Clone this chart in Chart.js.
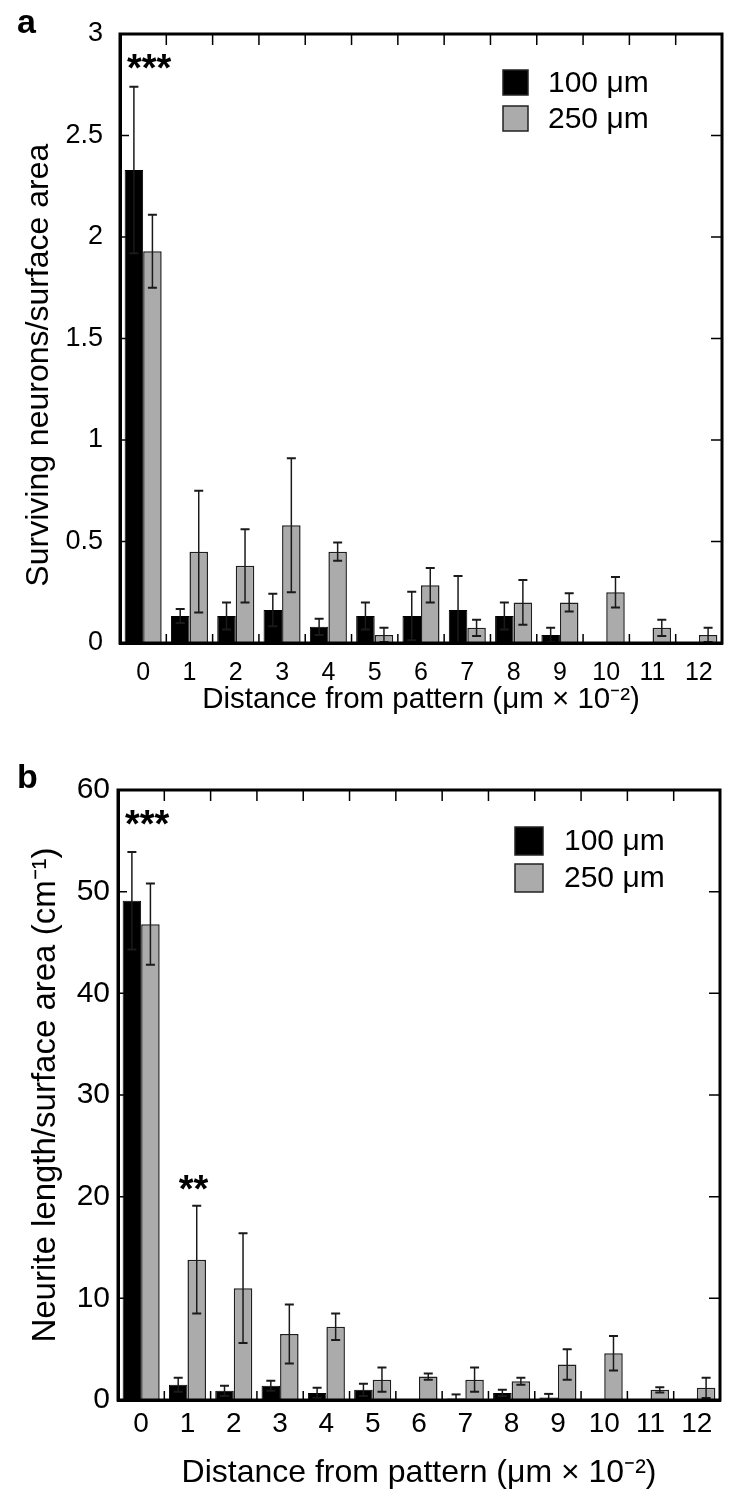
<!DOCTYPE html>
<html>
<head>
<meta charset="utf-8">
<script src="https://cdn.jsdelivr.net/npm/chart.js@4.4.1/dist/chart.umd.min.js"></script>
<style>
  body { margin: 0; background: #fff; }
  canvas { display: block; }
</style>
</head>
<body>
<canvas id="chartA" width="750" height="753"></canvas>
<canvas id="chartB" width="750" height="753"></canvas>
<script>
// categories (distance from pattern, um x 10^-2)
const distances = ['0', '1', '2', '3', '4', '5', '6', '7', '8', '9', '10', '11', '12'];
const seriesNames = ['100 \u03bcm', '250 \u03bcm'];

// panel a - surviving neurons / surface area
const neurons100 = [2.33, 0.133, 0.133, 0.163, 0.08, 0.133, 0.133, 0.163, 0.133, 0.04, 0, 0, 0];
const neurons100Err = [0.41, 0.034, 0.067, 0.08, 0.04, 0.067, 0.12, 0.167, 0.067, 0.035, 0, 0, 0];
const neurons250 = [1.93, 0.45, 0.38, 0.58, 0.45, 0.04, 0.285, 0.075, 0.20, 0.20, 0.25, 0.075, 0.04];
const neurons250Err = [0.18, 0.30, 0.18, 0.33, 0.045, 0.035, 0.085, 0.04, 0.11, 0.045, 0.075, 0.04, 0.035];
const neuronsTicks = [0, 0.5, 1, 1.5, 2, 2.5, 3];
const neuronsStars = [{ at: 0, y: 2.86, text: '***' }];

// panel b - neurite length / surface area
const neurite100 = [49.1, 1.5, 0.9, 1.4, 0.7, 1.0, 0, 0.15, 0.7, 0.25, 0, 0, 0];
const neurite100Err = [4.8, 0.7, 0.5, 0.5, 0.5, 0.6, 0, 0.4, 0.3, 0.35, 0, 0, 0];
const neurite250 = [46.8, 13.8, 11.0, 6.5, 7.2, 2.0, 2.3, 2.0, 1.85, 3.5, 4.6, 1.0, 1.2];
const neurite250Err = [4.0, 5.3, 5.4, 2.9, 1.3, 1.2, 0.3, 1.2, 0.35, 1.5, 1.7, 0.25, 1.0];
const neuriteTicks = [0, 10, 20, 30, 40, 50, 60];
const neuriteStars = [{ at: 0, y: 57.2, text: '***' }, { at: 1, y: 21.3, text: '**' }];

const FONT = '"Liberation Sans", Arial, Helvetica, sans-serif';
Chart.defaults.font.family = FONT;
Chart.defaults.color = '#000';

const decor = {
  id: 'decor',
  afterDatasetsDraw(chart) {
    const ctx = chart.ctx;
    const y = chart.scales.y;
    ctx.save();
    ctx.strokeStyle = '#1a1a1a';
    chart.data.datasets.forEach((ds, d) => {
      const meta = chart.getDatasetMeta(d);
      meta.data.forEach((bar, i) => {
        const e = ds.errors[i];
        if (!e) return;
        const v = ds.data[i];
        const top = y.getPixelForValue(v + e);
        const bot = y.getPixelForValue(Math.max(v - e, 0));
        ctx.lineWidth = 1.5;
        ctx.beginPath();
        ctx.moveTo(bar.x, top);
        ctx.lineTo(bar.x, bot);
        ctx.stroke();
        ctx.lineWidth = 2;
        ctx.beginPath();
        ctx.moveTo(bar.x - 4.5, top);
        ctx.lineTo(bar.x + 4.5, top);
        if (v - e > 0) {
          ctx.moveTo(bar.x - 4.5, bot);
          ctx.lineTo(bar.x + 4.5, bot);
        }
        ctx.stroke();
      });
    });
    ctx.restore();
  },
  afterDraw(chart, args, opts) {
    const ctx = chart.ctx;
    const a = chart.chartArea;
    const x = chart.scales.x, y = chart.scales.y;
    ctx.save();
    // inward tick marks
    ctx.strokeStyle = '#000';
    ctx.lineWidth = 1.5;
    ctx.beginPath();
    y.ticks.forEach(t => {
      const py = y.getPixelForValue(t.value);
      ctx.moveTo(a.left, py); ctx.lineTo(a.left + 9, py);
      ctx.moveTo(a.right, py); ctx.lineTo(a.right - 11, py);
    });
    for (let i = 0; i < distances.length - 1; i++) {
      const px = (x.getPixelForValue(i) + x.getPixelForValue(i + 1)) / 2;
      ctx.moveTo(px, a.top); ctx.lineTo(px, a.top + 11);
      ctx.moveTo(px, a.bottom); ctx.lineTo(px, a.bottom - 9);
    }
    ctx.stroke();
    // frame
    ctx.lineWidth = 3;
    ctx.strokeRect(a.left, a.top, a.right - a.left, a.bottom - a.top);

    // legend
    const lg = opts.legend;
    ctx.font = '30px ' + FONT;
    ctx.textBaseline = 'middle';
    ctx.textAlign = 'left';
    chart.data.datasets.forEach((ds, d) => {
      const bx = a.right - lg.right;
      const by = a.top + lg.top + d * lg.gap;
      ctx.fillStyle = ds.backgroundColor;
      ctx.fillRect(bx, by, lg.box, lg.box);
      ctx.lineWidth = 1.5;
      ctx.strokeStyle = '#222';
      ctx.strokeRect(bx, by, lg.box, lg.box);
      ctx.fillStyle = '#000';
      ctx.fillText(ds.label, bx + lg.text, by + lg.box / 2 + 1);
    });

    // significance stars
    ctx.font = 'bold 38px ' + FONT;
    ctx.textAlign = 'center';
    ctx.textBaseline = 'middle';
    opts.stars.forEach(s => {
      ctx.fillText(s.text, x.getPixelForValue(s.at) + 6, y.getPixelForValue(s.y) + 8);
    });

    // panel letter
    ctx.font = 'bold 34px ' + FONT;
    ctx.textAlign = 'left';
    ctx.textBaseline = 'alphabetic';
    ctx.fillText(opts.letter, 17, a.top + opts.letterDy);
    ctx.restore();
  }
};

function makeChart(id, v100, e100, v250, e250, yTicks, yMax, yTitle, stars, lay) {
  return new Chart(document.getElementById(id).getContext('2d'), {
    type: 'bar',
    data: {
      labels: distances,
      datasets: [{
        label: seriesNames[0],
        data: v100,
        errors: e100,
        backgroundColor: '#000000',
        borderColor: '#000000',
        borderWidth: 1,
        categoryPercentage: 0.8,
        barPercentage: 1.0
      }, {
        label: seriesNames[1],
        data: v250,
        errors: e250,
        backgroundColor: '#ababab',
        borderColor: '#1e1e1e',
        borderWidth: 1.5,
        categoryPercentage: 0.8,
        barPercentage: 1.0
      }]
    },
    options: {
      responsive: false,
      animation: false,
      layout: { padding: { top: lay.top, right: lay.right, left: 0, bottom: 0 } },
      scales: {
        x: {
          grid: { display: false, drawTicks: false },
          border: { display: true, color: '#000', width: 3 },
          ticks: { font: { size: lay.xTickSize }, padding: lay.xPad, maxRotation: 0, autoSkip: false },
          title: {
            display: true,
            text: 'Distance from pattern (\u03bcm \u00d7 10\u207b\u00b2)',
            font: { size: lay.xTitleSize },
            padding: { top: 0, bottom: lay.xTitlePad }
          },
          afterFit: s => { s.height = lay.xHeight; }
        },
        y: {
          min: 0,
          max: yMax,
          grid: { display: false, drawTicks: false },
          border: { display: true, color: '#000', width: 3 },
          ticks: { font: { size: lay.yTickSize }, padding: lay.yPad, callback: v => String(v) },
          afterBuildTicks: s => { s.ticks = yTicks.map(v => ({ value: v })); },
          title: {
            display: true,
            text: yTitle,
            font: { size: lay.yTitleSize },
            padding: { top: lay.yTitlePad, bottom: 0 }
          },
          afterFit: s => { s.width = lay.yWidth; }
        }
      },
      plugins: {
        legend: { display: false },
        tooltip: { enabled: false },
        decor: { legend: lay.legend, stars: stars, letter: lay.letter, letterDy: lay.letterDy }
      }
    },
    plugins: [decor]
  });
}

makeChart('chartA', neurons100, neurons100Err, neurons250, neurons250Err, neuronsTicks, 3,
  'Surviving neurons/surface area\u00a0\u00a0\u00a0\u00a0\u00a0\u00a0', neuronsStars, {
    top: 34, right: 28, xHeight: 110, yWidth: 120,
    xTickSize: 25, xPad: 15, xTitleSize: 29.5, xTitlePad: 35,
    yTickSize: 27, yPad: 17, yTitleSize: 32, yTitlePad: 20,
    legend: { right: 219, top: 36, box: 25, gap: 36, text: 45 }, letter: 'a', letterDy: -1
  });

makeChart('chartB', neurite100, neurite100Err, neurite250, neurite250Err, neuriteTicks, 60,
  'Neurite length/surface area (cm\u207b\u00b9)', neuriteStars, {
    top: 37, right: 30, xHeight: 106, yWidth: 118,
    xTickSize: 28, xPad: 7, xTitleSize: 32, xTitlePad: 14,
    yTickSize: 30, yPad: 8, yTitleSize: 33, yTitlePad: 26,
    legend: { right: 205, top: 37, box: 28, gap: 37, text: 49 }, letter: 'b', letterDy: -2
  });
</script>
</body>
</html>
